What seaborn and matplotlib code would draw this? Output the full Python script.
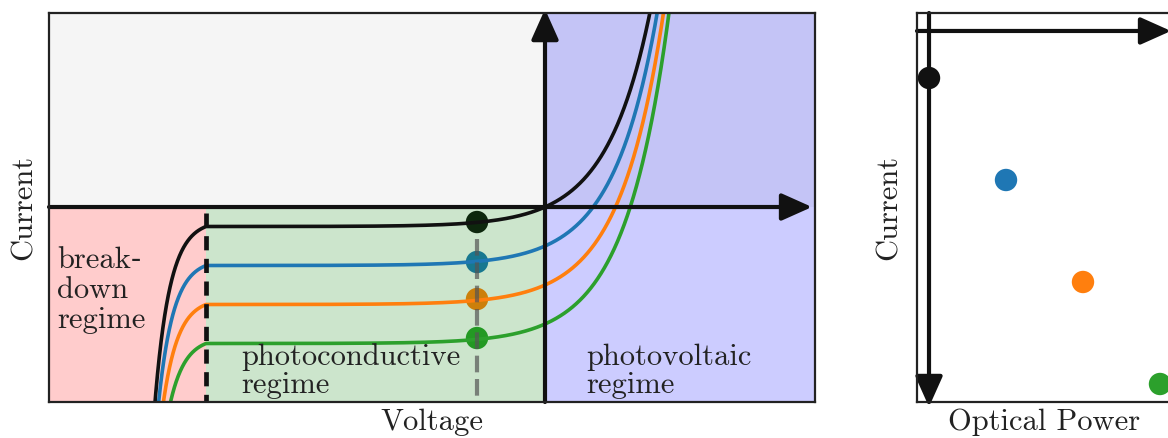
import numpy as np
import pandas as pd
import matplotlib
matplotlib.use("Agg")
import matplotlib.pyplot as plt
import seaborn as sns

# ---------------- data ----------------
series_names = ["dark", "P1", "P2", "P3"]
series_colors = ["#111111", "#1f77b4", "#ff7f0e", "#2ca02c"]
photocurrent = [0.0, 0.2, 0.4, 0.6]          # downward offset of each I-V curve
saturation_current = 0.1                       # dark reverse current
thermal_voltage = 0.219                        # exponential scale of forward branch
breakdown_voltage = -1.695                     # dashed black line
breakdown_scale = 0.0311
breakdown_width = 0.075
operating_voltage = -0.34                      # dashed grey line
dot_current_left = [-0.077, -0.282, -0.472, -0.672]
optical_power = [0, 1, 2, 3]
dot_current_right = [-0.1, -0.3, -0.5, -0.7]
region_labels = ["break\u2010\ndown\nregime", "photoconductive\nregime", "photovoltaic\nregime"]

# ---------------- style ----------------
sns.set_theme(style="white")
plt.rcParams["font.family"] = ["cmr10", "DejaVu Serif"]
plt.rcParams["mathtext.fontset"] = "cm"
plt.rcParams["axes.formatter.use_mathtext"] = True
plt.rcParams["axes.unicode_minus"] = False

W, H = 1168, 438
fig = plt.figure(figsize=(W / 100, H / 100), dpi=100)
ax1 = fig.add_axes([49 / W, 36 / H, 766 / W, 389 / H])
ax2 = fig.add_axes([917 / W, 36 / H, 254 / W, 389 / H])

XL = (-2.48, 1.35)
YL = (-1.0, 0.995)
ax1.set_xlim(*XL)
ax1.set_ylim(*YL)

# background regions
ax1.axhspan(0, YL[1], color="whitesmoke", lw=0, zorder=0.5)
ax1.fill_between([XL[0], breakdown_voltage], YL[0], 0, color="red", alpha=0.2, lw=0, zorder=1)
ax1.fill_between([breakdown_voltage, 0], YL[0], 0, color="green", alpha=0.2, lw=0, zorder=1)
ax1.axvspan(0, XL[1], color="blue", alpha=0.2, lw=0, zorder=1)

# I-V curves
V = np.linspace(XL[0], XL[1], 3000)
rows = []
for name, iph in zip(series_names, photocurrent):
    I = saturation_current * (np.exp(V / thermal_voltage) - 1) - iph
    I_br = saturation_current * (np.exp(breakdown_voltage / thermal_voltage) - 1) - iph
    mask = V < breakdown_voltage
    I[mask] = I_br - breakdown_scale * (np.exp((breakdown_voltage - V[mask]) / breakdown_width) - 1)
    I = np.clip(I, -3, 3)
    rows.append(pd.DataFrame({"V": V, "I": I, "series": name}))
curves = pd.DataFrame(pd.concat(rows, ignore_index=True))

# operating points (under the shaded regions, as in the reference)
dots_left = pd.DataFrame({"V": [operating_voltage] * 4, "I": dot_current_left, "series": series_names})
sns.scatterplot(data=dots_left, x="V", y="I", hue="series", palette=series_colors,
                s=260, linewidth=0, legend=False, ax=ax1, zorder=0.8)

sns.lineplot(data=curves, x="V", y="I", hue="series", palette=series_colors,
             lw=2.6, legend=False, ax=ax1, estimator=None, sort=False, zorder=2)

ax1.plot([breakdown_voltage, breakdown_voltage], [-0.03, YL[0]], color="#111111",
         lw=3.4, ls=(0, (3.0, 1.8)), zorder=2.5)
ax1.plot([operating_voltage, operating_voltage], [-0.165, YL[0]], color="#555555",
         alpha=0.7, lw=3.0, ls=(0, (4.0, 1.6)), zorder=2.6)

arrow = dict(arrowstyle="-|>,head_length=0.85,head_width=0.38", mutation_scale=22,
             lw=3, color="#111111", shrinkA=0, shrinkB=0)
ax1.annotate("", xy=(0, 1.015), xytext=(0, YL[0]), arrowprops=arrow,
             annotation_clip=False, zorder=5)
ax1.annotate("", xy=(1.335, 0), xytext=(XL[0], 0), arrowprops=arrow,
             annotation_clip=False, zorder=5)

tkw = dict(fontsize=22, color="#222222", zorder=6)
ax1.text(-2.44, -0.6205, region_labels[0], va="baseline", ha="left", linespacing=1.12, **tkw)
ax1.text(-1.52, -0.954, region_labels[1], va="baseline", ha="left", linespacing=1.05, **tkw)
ax1.text(0.205, -0.954, region_labels[2], va="baseline", ha="left", linespacing=1.05, **tkw)

ax1.set_xlabel("Voltage", fontsize=22, labelpad=5, color="#222222")
ax1.set_ylabel("Current", fontsize=22, labelpad=8, color="#222222")

# ---------------- right panel ----------------
ax2.set_xlim(-0.156, 3.143)
ax2.set_ylim(-0.7353, 0.02745)
dots_right = pd.DataFrame({"P": optical_power, "I": dot_current_right, "series": series_names})
sns.scatterplot(data=dots_right, x="P", y="I", hue="series", palette=series_colors,
                s=260, linewidth=0, legend=False, ax=ax2, zorder=4, clip_on=False)
yax = -0.0078
ax2.annotate("", xy=(0, -0.745), xytext=(0, 0.02745), arrowprops=arrow,
             annotation_clip=False, zorder=5)
ax2.annotate("", xy=(3.143, yax), xytext=(-0.156, yax), arrowprops=arrow,
             annotation_clip=False, zorder=5)
ax2.set_xlabel("Optical Power", fontsize=22, labelpad=5, color="#222222")
ax2.set_ylabel("Current", fontsize=22, labelpad=10, color="#222222")

for ax in (ax1, ax2):
    ax.set_xticks([])
    ax.set_yticks([])
    for sp in ax.spines.values():
        sp.set_visible(True)
        sp.set_color("#222222")
        sp.set_linewidth(1.6)
        sp.set_zorder(7)

fig.savefig("out.png", dpi=100)
